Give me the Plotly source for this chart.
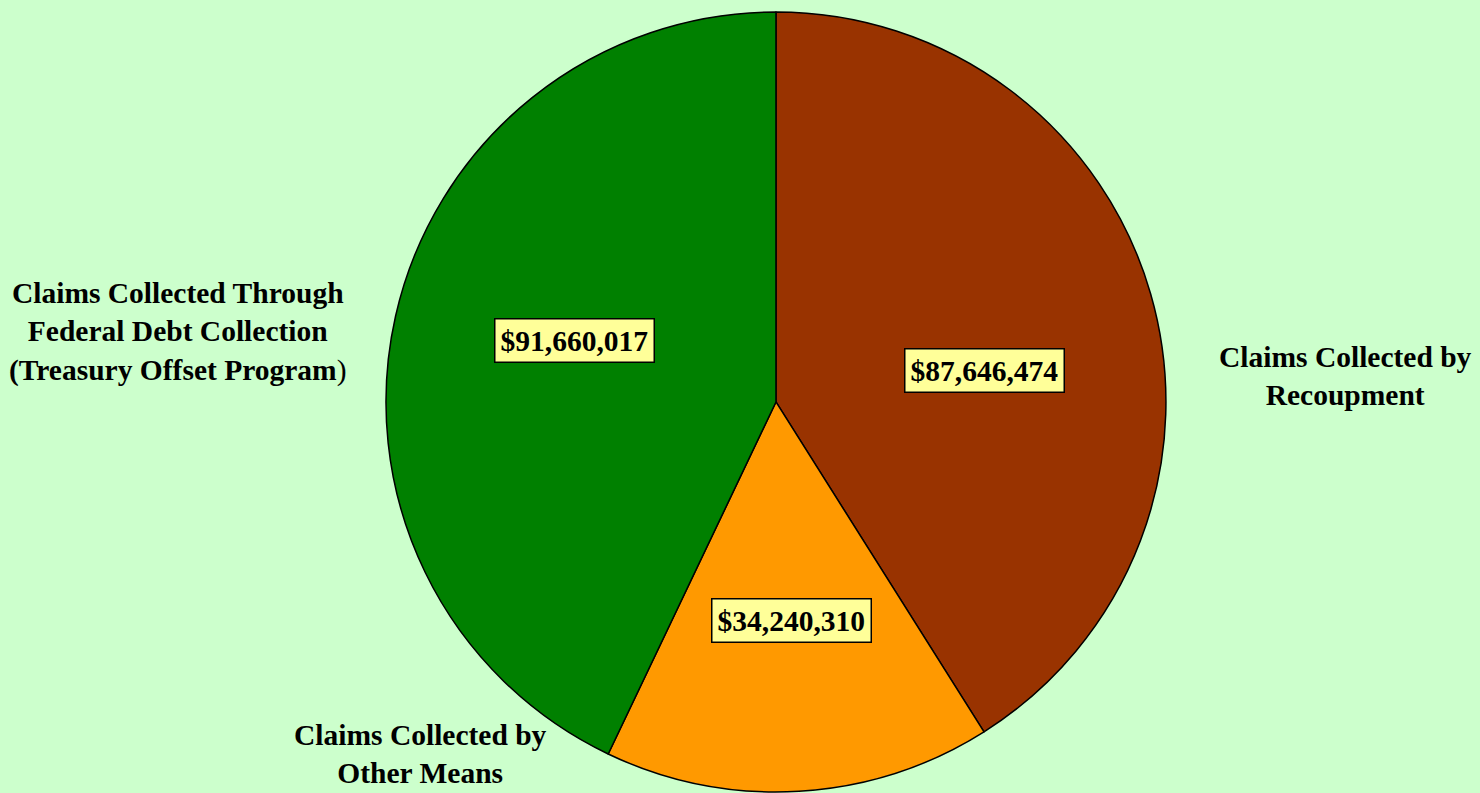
import plotly.graph_objects as go

categories = [
    "Claims Collected by<br>Recoupment",
    "Claims Collected by<br>Other Means",
    "Claims Collected Through<br>Federal Debt Collection<br>(Treasury Offset Program)",
]
values = [87646474, 34240310, 91660017]
colors = ["#993300", "#FF9900", "#008000"]

# label positions (paper coords) for value boxes and category labels
value_pos = [(0.6655, 0.533), (0.5351, 0.217), (0.3885, 0.571)]
cat_pos = [(0.9088, 0.526), (0.2838, 0.049), (0.1203, 0.581)]

fig = go.Figure()
fig.add_trace(go.Pie(
    values=values,
    labels=[c.replace("<br>", " ") for c in categories],
    sort=False,
    direction="clockwise",
    rotation=0,
    marker=dict(colors=colors, line=dict(color="black", width=1.5)),
    textinfo="none",
    showlegend=False,
    domain=dict(x=[0.2608, 0.7878], y=[0.0013, 0.9849]),
))

font = dict(family="Liberation Serif, Times New Roman, serif", size=29.5, color="black")

for v, (x, y) in zip(values, value_pos):
    fig.add_annotation(
        x=x, y=y, xref="paper", yref="paper", showarrow=False,
        text="<b>${:,}</b>".format(v), font=font,
        bgcolor="#FFFF99", bordercolor="black", borderwidth=1.5, borderpad=5,
        xanchor="center", yanchor="middle",
    )

for c, (x, y) in zip(categories, cat_pos):
    if c.endswith(")"):
        txt = "<b>" + c[:-1] + "</b>)"
    else:
        txt = "<b>" + c + "</b>"
    txt = txt.replace("<br>", "</b><br><b>")
    fig.add_annotation(
        x=x, y=y, xref="paper", yref="paper", showarrow=False,
        text=txt, font=font, align="center",
        xanchor="center", yanchor="middle",
    )

fig.update_layout(
    width=1480, height=793,
    paper_bgcolor="#CCFFCC", plot_bgcolor="#CCFFCC",
    margin=dict(l=0, r=0, t=0, b=0),
)

fig.write_html(
    "out.html",
    config={"displayModeBar": False},
    post_script="document.body.style.margin='0';document.body.style.background='#CCFFCC';",
)
